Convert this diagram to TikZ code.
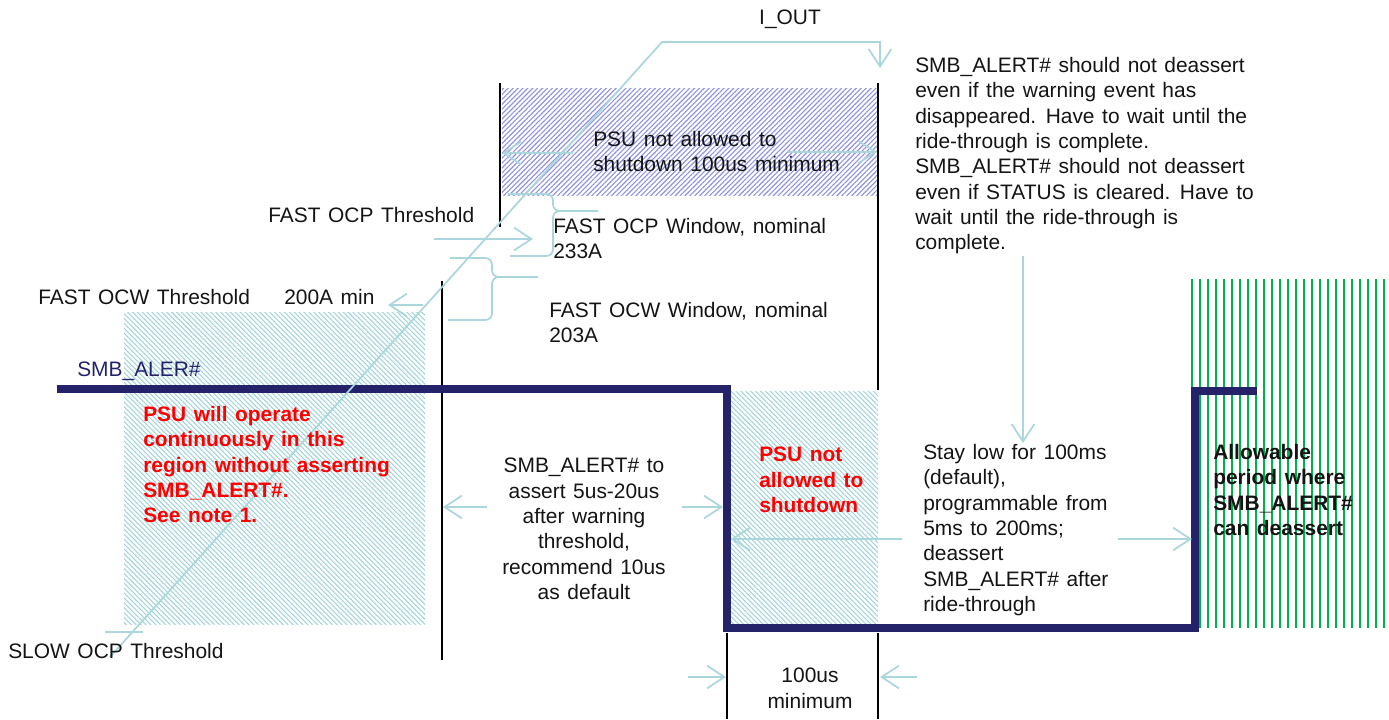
\documentclass[tikz,border=0pt]{standalone}
\usepackage{fontspec}
\setmainfont{Liberation Sans}[WordSpace=1.3]
\usetikzlibrary{arrows.meta,patterns.meta}
\definecolor{wire}{RGB}{170,214,220}
\definecolor{navy}{RGB}{36,34,104}
\definecolor{lavender}{RGB}{145,145,222}
\definecolor{mint}{RGB}{160,212,218}
\definecolor{grn}{RGB}{0,176,80}
\definecolor{ink}{RGB}{20,20,20}
\newcommand\diagfont{\fontsize{15.7}{19}\selectfont}

\begin{document}
\begin{tikzpicture}[x=0.75pt,y=-0.75pt,
  wire/.style={draw=wire, line width=1.3pt},
  wirearrow/.style={wire, -{Straight Barb[length=13pt,width=17pt]}},
  guide/.style={draw=black, line width=2pt},
  signal/.style={draw=navy, line width=5.3pt},
  lbl/.style={font=\diagfont, inner sep=0pt, text=ink},
  warn/.style={lbl, font=\diagfont\bfseries, text=red},
  lavhatch/.style={pattern={Lines[angle=45,distance=2.6pt,line width=0.85pt]}, pattern color=lavender},
  minthatch/.style={pattern={Lines[angle=-45,distance=2.6pt,line width=0.8pt]}, pattern color=mint}]

\useasboundingbox (0,0) rectangle (1389,719);

% hatched regions
\path[lavhatch] (502,88) rectangle (877,195);
\path[minthatch] (124,312) rectangle (425,624);
\path[minthatch] (731,391) rectangle (878,625);

% deassert window
\foreach \i in {0,...,24}
  \draw[grn, line width=1.5pt] ({1192+8*\i},279) -- ({1192+8*\i},628);

% timing markers
\draw[guide] (500,83) -- (500,227);
\draw[guide] (878,83) -- (878,390);
\draw[guide] (442,281) -- (442,660);
\draw[guide] (727,633) -- (727,719);
\draw[guide] (878,633) -- (878,719);

% SMB_ALERT# waveform
\draw[signal, line join=miter] (57,389) -- (727,389) -- (727,628) -- (1195,628) -- (1195,391) -- (1257,391);

% output current ramp
\coordinate (rampfoot) at (110,657);
\coordinate (rampknee) at (662,42);
\coordinate (rampend) at (880,42);
\coordinate (holdtop) at (880,68);
\draw[wirearrow] (rampfoot) -- (rampknee) -- (rampend) -- (holdtop);
\draw[wire] (105,632) -- (143,632);

% window braces
\draw[wire, rounded corners=5pt] (508,194) -| (553,211) -- (598,211);
\draw[wire, rounded corners=5pt] (598,211) -- (553,211) |- (510,256);
\draw[wire, rounded corners=5pt] (450,258) -| (492,277) -- (538,277);
\draw[wire, rounded corners=5pt] (538,277) -- (492,277) |- (448,320);

% dimension arrows
\coordinate (notefoot) at (1023,256);
\coordinate (staytop) at (1023,443);
\draw[wirearrow] (573,153) -- (502,153);
\draw[wirearrow] (788,152) -- (877,152);
\draw[wirearrow] (434,239) -- (533,239);
\draw[wirearrow] (423,305) -- (388,305);
\draw[wirearrow] (487,507) -- (443,507);
\draw[wirearrow] (682,507) -- (723,507);
\draw[wirearrow] (902,539) -- (731,539);
\draw[wirearrow] (1118,539) -- (1192,539);
\draw[wirearrow] (notefoot) -- (staytop);
\draw[wirearrow] (688,677) -- (726,677);
\draw[wirearrow] (917,677) -- (880,677);

% texts
\node[lbl, anchor=base] (iout) at (790,24) {I\_OUT};
\node[lbl, anchor=north west, align=left] (nsd) at (593,131) {PSU not allowed to\\shutdown 100us minimum};
\node[lbl, anchor=base west] (ocpth) at (268,222) {FAST OCP Threshold};
\node[lbl, anchor=north west, align=left] (ocpwin) at (553,218) {FAST OCP Window, nominal\\233A};
\node[lbl, anchor=north west, align=left] (ocwwin) at (549,302) {FAST OCW Window, nominal\\203A};
\node[lbl, anchor=base west] (ocwth) at (38,304) {FAST OCW Threshold};
\node[lbl, anchor=base west] (min200) at (284,304) {200A min};
\node[lbl, anchor=base west, text=navy] (sig) at (77,376) {SMB\_ALER\#};
\node[warn, anchor=north west, align=left] (cont) at (143,406) {PSU will operate\\continuously in this\\region without asserting\\SMB\_ALERT\#.\\See note 1.};
\node[warn, anchor=north west, align=left] (noshut) at (759,447) {PSU not\\allowed to\\shutdown};
\node[lbl, anchor=north, align=center] (assert) at (584,458) {SMB\_ALERT\# to\\assert 5us-20us\\after warning\\threshold,\\recommend 10us\\as default};
\node[lbl, anchor=north west, align=left] (stay) at (923,444) {Stay low for 100ms\\(default),\\programmable from\\5ms to 200ms;\\deassert\\SMB\_ALERT\# after\\ride-through};
\node[lbl, anchor=north west, align=left] (note) at (915,57) {SMB\_ALERT\# should not deassert\\even if the warning event has\\disappeared. Have to wait until the\\ride-through is complete.\\SMB\_ALERT\# should not deassert\\even if STATUS is cleared. Have to\\wait until the ride-through is\\complete.};
\node[lbl, anchor=north west, align=left, font=\diagfont\bfseries] (allow) at (1213,444) {Allowable\\period where\\SMB\_ALERT\#\\can deassert};
\node[lbl, anchor=north, align=center] (min100) at (810,668) {100us\\minimum};
\node[lbl, anchor=base west] (slow) at (8,658) {SLOW OCP Threshold};
\end{tikzpicture}
\end{document}
